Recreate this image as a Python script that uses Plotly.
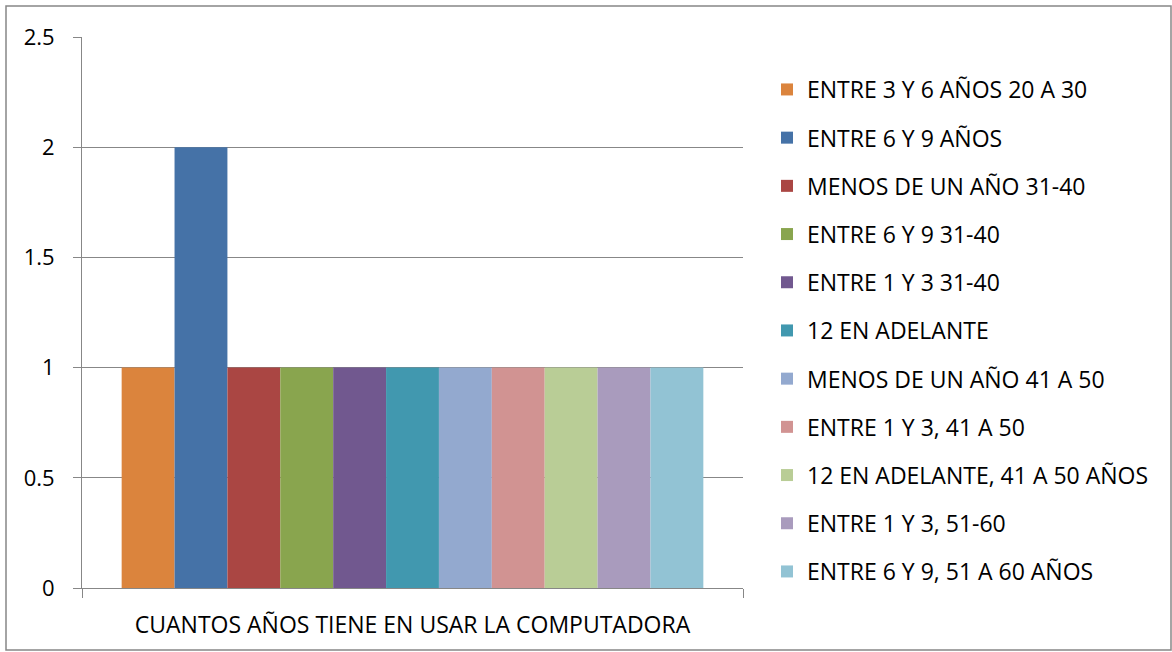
import plotly.graph_objects as go

category = ["CUANTOS AÑOS TIENE EN USAR LA COMPUTADORA"]
series_names = [
    "ENTRE 3 Y 6 AÑOS 20 A 30",
    "ENTRE 6 Y 9 AÑOS",
    "MENOS DE UN AÑO 31-40",
    "ENTRE 6 Y 9 31-40",
    "ENTRE 1 Y 3 31-40",
    "12 EN ADELANTE",
    "MENOS DE UN AÑO 41 A 50",
    "ENTRE 1 Y 3, 41 A 50",
    "12 EN ADELANTE, 41 A 50 AÑOS",
    "ENTRE 1 Y 3, 51-60",
    "ENTRE 6 Y 9, 51 A 60 AÑOS",
]
series_values = [1, 2, 1, 1, 1, 1, 1, 1, 1, 1, 1]
series_colors = [
    "#DB843D", "#4572A7", "#AA4643", "#89A54E", "#71588F", "#4198AF",
    "#93A9CF", "#D19392", "#B9CD96", "#A99BBD", "#92C3D4",
]
y_ticks = [0, 0.5, 1, 1.5, 2, 2.5]
y_tick_text = ["0", "0.5", "1", "1.5", "2", "2.5"]

FONT = "Open Sans"
GRID = "#878787"

fig = go.Figure()
for i, (name, val, col) in enumerate(zip(series_names, series_values, series_colors)):
    fig.add_trace(go.Bar(
        x=category, y=[val], name=name, marker_color=col,
        marker_line_width=0, legendgroup=f"g{i}",
    ))

W, H = 1172, 652
L, R, T, B = 82, 743, 37, 588
pw, ph = R - L, B - T

def px_x(p):
    return (p - L) / pw

def px_y(p):
    return (B - p) / ph

fig.update_layout(
    width=W, height=H,
    margin=dict(l=L, r=W - R, t=T, b=H - B, pad=0),
    paper_bgcolor="white", plot_bgcolor="white",
    font=dict(family=FONT, size=23, color="#000000"),
    barmode="group", bargap=0.12, bargroupgap=0,
    showlegend=True,
    legend=dict(
        x=px_x(767), xanchor="left", y=px_y(68), yanchor="top",
        font=dict(family=FONT, size=23, color="#000000"),
        tracegroupgap=15.3, traceorder="grouped",
        bgcolor="rgba(0,0,0,0)", itemclick=False,
    ),
    xaxis=dict(
        type="category", showline=True, linecolor=GRID, linewidth=1,
        ticks="outside", tickson="boundaries", ticklen=9, tickcolor=GRID,
        showgrid=False, tickfont=dict(family=FONT, size=23),
        ticklabelstandoff=16,
    ),
    yaxis=dict(
        range=[0, 2.5], tickvals=y_ticks, ticktext=y_tick_text,
        showline=True, linecolor=GRID, linewidth=1,
        ticks="outside", ticklen=8, tickcolor=GRID,
        showgrid=True, gridcolor=GRID, gridwidth=1,
        zeroline=False, tickfont=dict(family=FONT, size=22),
        ticklabelstandoff=14,
    ),
    shapes=[dict(
        type="rect", xref="paper", yref="paper",
        x0=px_x(6), x1=px_x(1171), y0=px_y(650), y1=px_y(6),
        line=dict(color="#878787", width=1.5), fillcolor="rgba(0,0,0,0)",
        layer="below",
    )],
)

fig.write_html(
    "out.html",
    config={"displayModeBar": False},
    post_script="document.body.style.margin='0px';",
)
